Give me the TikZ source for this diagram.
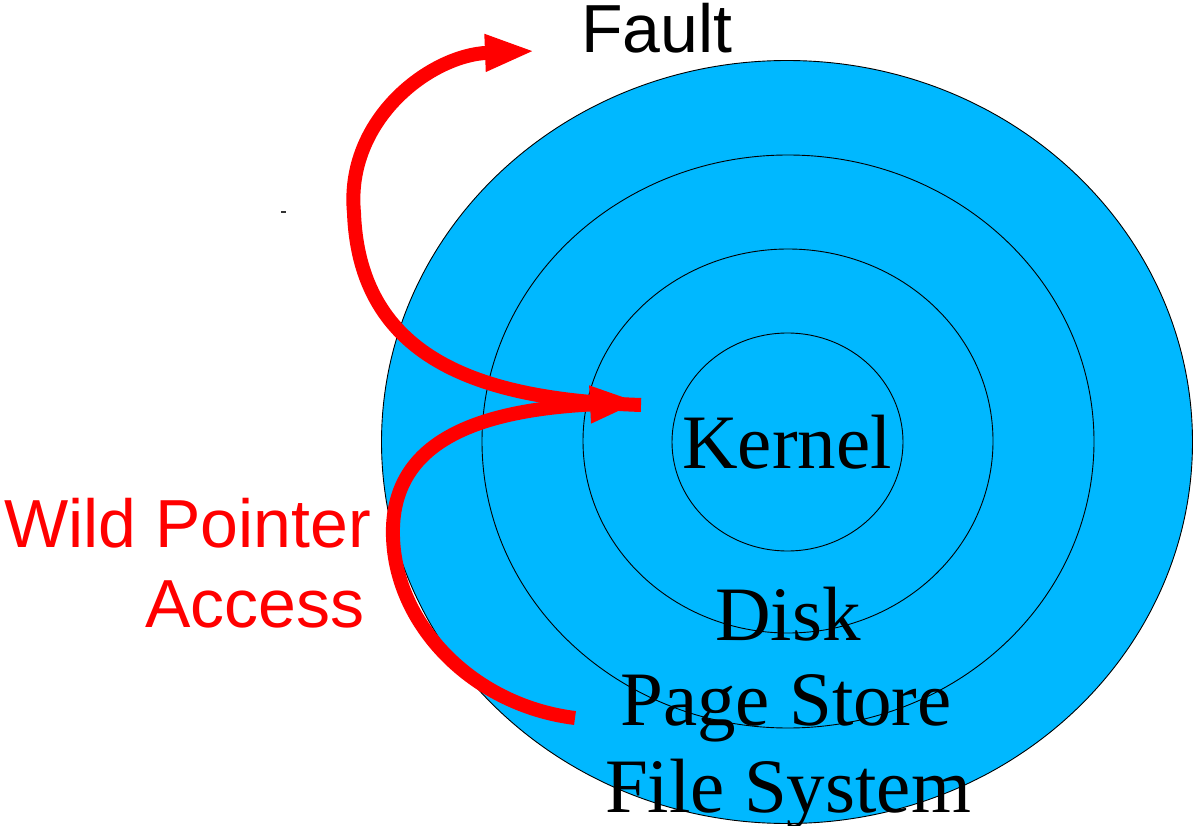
\documentclass[tikz,border=0pt]{standalone}
\usepackage{fontspec}
\setmainfont{Liberation Serif}
\newfontfamily\labelsans{Liberation Sans}
\usetikzlibrary{arrows.meta}
\definecolor{ringblue}{RGB}{0,184,255}
\definecolor{arrowred}{RGB}{255,0,0}
\tikzset{
  ring/.style={draw=black, line width=0.9pt},
  bigarrow/.style={draw=arrowred, line width=14pt, line cap=butt,
    -{Triangle[length=50pt,width=34pt]}},
  layertext/.style={inner sep=0pt, anchor=base, font=\fontsize{77}{85}\selectfont},
  redtext/.style={inner sep=0pt, anchor=base west, text=arrowred, font=\labelsans\fontsize{68}{80}\selectfont},
  blacksans/.style={inner sep=0pt, anchor=base west, text=black, font=\labelsans\fontsize{68}{80}\selectfont}
}
\begin{document}
\begin{tikzpicture}[x=1pt,y=-1pt]
\useasboundingbox (0,0) rectangle (1194,826);
% concentric rings
\fill[ringblue] (787,442) ellipse [x radius=405.5pt, y radius=381.5pt];
\draw[ring] (787,442) ellipse [x radius=405.5pt, y radius=381.5pt];
\draw[ring] (788,441.5) ellipse [x radius=306pt, y radius=286.5pt];
\draw[ring] (788,441) ellipse [x radius=205pt, y radius=192pt];
\draw[ring] (787.5,442) ellipse [x radius=115.5pt, y radius=109pt];
% small dash
\draw[line width=1.2pt, black!80] (281,212) -- (286,212);
% arrow end points
\coordinate (hit) at (641,405);
\coordinate (faulttip) at (535,51);
\coordinate (wildstart) at (575,718);
\coordinate (wildtip) at (640,402);
\coordinate (faultturn) at (354,213);
\coordinate (wildturn) at (393,527);
% arrows
\draw[bigarrow] (hit) .. controls (500,400) and (360,370) .. (faultturn)
  .. controls (345,120) and (430,55) .. (faulttip);
\draw[bigarrow] (wildstart) .. controls (470,705) and (390,620) .. (wildturn)
  .. controls (396,440) and (480,410) .. (wildtip);
% texts
\node[layertext] (kernel) at (787,468) {Kernel};
\node[layertext] (disk) at (788,640) {Disk};
\node[layertext] (page) at (786,725) {Page Store};
\node[layertext] (files) at (788,812) {File System};
\node[blacksans] (fault) at (581,53) {Fault};
\node[redtext] (wild) at (4,547) {Wild Pointer};
\node[redtext] (access) at (145,627) {Access};
\end{tikzpicture}
\end{document}
